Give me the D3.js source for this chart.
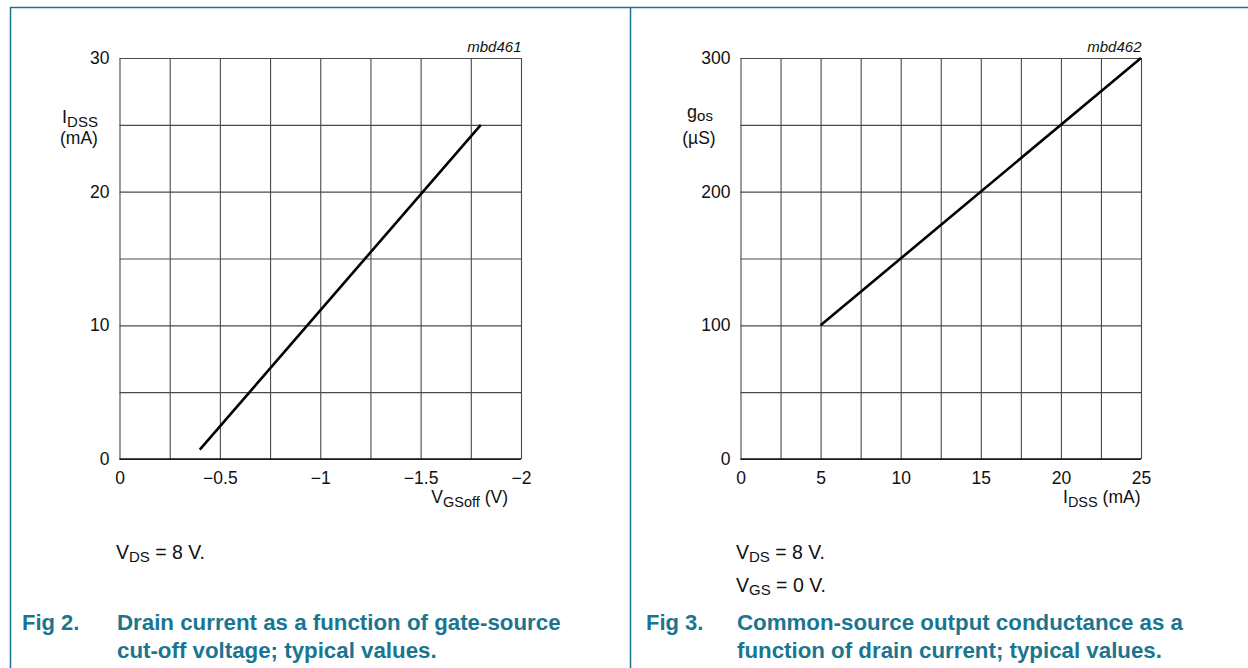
<!DOCTYPE html>
<html>
<head>
<meta charset="utf-8">
<script src="https://cdn.jsdelivr.net/npm/d3@7"></script>
<style>
  html, body { margin: 0; padding: 0; background: #fff; }
  svg { display: block; font-family: "Liberation Sans", Arial, Helvetica, sans-serif; }
</style>
</head>
<body>
<svg id="chart" width="1248" height="668"></svg>
<script>
// Fig 2 — drain current I_DSS (mA) versus gate-source cut-off voltage V_GSoff (V)
const fig2VgsOff = [-0.4, -1.8];
const fig2Idss = [0.7, 25];
const fig2XTicks = [0, -0.5, -1, -1.5, -2];
const fig2YTicks = [0, 10, 20, 30];
const fig2XGrid = [0, -0.25, -0.5, -0.75, -1, -1.25, -1.5, -1.75, -2];
const fig2YGrid = [0, 5, 10, 15, 20, 25, 30];

// Fig 3 — output conductance g_os (µS) versus drain current I_DSS (mA)
const fig3Idss = [5, 25];
const fig3Gos = [100, 300];
const fig3XTicks = [0, 5, 10, 15, 20, 25];
const fig3YTicks = [0, 100, 200, 300];
const fig3XGrid = [0, 2.5, 5, 7.5, 10, 12.5, 15, 17.5, 20, 22.5, 25];
const fig3YGrid = [0, 50, 100, 150, 200, 250, 300];

const TEAL = "#1a7590";
const svg = d3.select("#chart");

// panel frame lines
svg.append("line").attr("x1", 10).attr("x2", 1248).attr("y1", 7.5).attr("y2", 7.5)
  .attr("stroke", TEAL).attr("stroke-width", 1.5);
svg.append("line").attr("x1", 10.5).attr("x2", 10.5).attr("y1", 7).attr("y2", 668)
  .attr("stroke", TEAL).attr("stroke-width", 1.5);
svg.append("line").attr("x1", 630.5).attr("x2", 630.5).attr("y1", 7).attr("y2", 668)
  .attr("stroke", TEAL).attr("stroke-width", 1.5);

const minus = v => v === 0 ? "0" : (v < 0 ? "\u2212" + Math.abs(v) : String(v));

function panel(o) {
  const x = d3.scaleLinear().domain(o.xDomain).range([o.left, o.right]);
  const y = d3.scaleLinear().domain(o.yDomain).range([459, 58]);
  const g = svg.append("g");
  const h = 459 - 58, w = o.right - o.left;

  // vertical grid
  g.append("g").attr("transform", `translate(0,459)`)
    .call(d3.axisBottom(x).tickValues(o.xGrid).tickSize(-h).tickFormat(""))
    .call(s => s.select(".domain").remove())
    .call(s => s.selectAll("line").attr("stroke", "#4a4a4a").attr("stroke-width", 1.1));
  // horizontal grid
  g.append("g").attr("transform", `translate(${o.left},0)`)
    .call(d3.axisLeft(y).tickValues(o.yGrid).tickSize(-w).tickFormat(""))
    .call(s => s.select(".domain").remove())
    .call(s => s.selectAll("line").attr("stroke", "#4a4a4a").attr("stroke-width", 1.1));
  // baseline
  g.append("line").attr("x1", o.left).attr("x2", o.right).attr("y1", 459).attr("y2", 459)
    .attr("stroke", "#111").attr("stroke-width", 1.6);

  // tick labels
  g.append("g").attr("transform", `translate(0,459)`)
    .call(d3.axisBottom(x).tickValues(o.xTicks).tickSize(0).tickPadding(13).tickFormat(minus))
    .call(s => s.select(".domain").remove())
    .call(s => s.selectAll("text").attr("font-size", 17.5).attr("fill", "#111")
      .attr("font-family", null));
  g.append("g").attr("transform", `translate(${o.left},0)`)
    .call(d3.axisLeft(y).tickValues(o.yTicks).tickSize(0).tickPadding(10).tickFormat(d3.format("d")))
    .call(s => s.select(".domain").remove())
    .call(s => s.selectAll("text").attr("font-size", 17.5).attr("fill", "#111")
      .attr("font-family", null));

  // data line
  const pts = o.xs.map((v, i) => [v, o.ys[i]]);
  g.append("path").datum(pts)
    .attr("d", d3.line().x(d => x(d[0])).y(d => y(d[1])))
    .attr("fill", "none").attr("stroke", "#000").attr("stroke-width", 2.6)
    .attr("stroke-linecap", "butt");

  // drawing code
  g.append("text").attr("x", o.right + 0.5).attr("y", 52).attr("text-anchor", "end")
    .attr("font-size", 15).attr("font-style", "italic").attr("fill", "#111").text(o.code);

  // y title
  const yt = g.append("text").attr("x", o.yTitleX).attr("y", o.yTitleY)
    .attr("text-anchor", "middle").attr("font-size", 18).attr("fill", "#111");
  yt.append("tspan").text(o.yMain);
  yt.append("tspan").attr("dy", o.ySubDy).attr("font-size", 15).text(o.ySub);
  g.append("text").attr("x", o.yTitleX - 1).attr("y", 144)
    .attr("text-anchor", "middle").attr("font-size", 17.5).attr("fill", "#111").text(o.yUnit);

  // x title
  const xt = g.append("text").attr("x", o.xTitleX).attr("y", 503)
    .attr("text-anchor", "end").attr("font-size", 17.5).attr("fill", "#111");
  xt.append("tspan").text(o.xMain);
  xt.append("tspan").attr("dy", 4).attr("font-size", 14.5).text(o.xSub);
  xt.append("tspan").attr("dy", -4).text(o.xUnit);

  // condition notes
  o.notes.forEach((n, i) => {
    const t = g.append("text").attr("x", o.noteX).attr("y", 558.5 + i * 33)
      .attr("font-size", 19.5).attr("fill", "#111");
    t.append("tspan").text(n[0]);
    t.append("tspan").attr("dy", 3.5).attr("font-size", 15).text(n[1]);
    t.append("tspan").attr("dy", -3.5).text(n[2]);
  });

  // caption
  g.append("text").attr("x", o.figX).attr("y", 630).attr("font-size", 22)
    .attr("font-weight", "bold").attr("fill", TEAL).text(o.fig);
  o.caption.forEach((c, i) => {
    g.append("text").attr("x", o.noteX + 1).attr("y", 630 + i * 28).attr("font-size", 22.3)
      .attr("font-weight", "bold").attr("fill", TEAL).text(c);
  });
}

panel({
  left: 119.5, right: 521, xDomain: [0, -2], yDomain: [0, 30],
  xGrid: fig2XGrid, yGrid: fig2YGrid, xTicks: fig2XTicks, yTicks: fig2YTicks,
  xs: fig2VgsOff, ys: fig2Idss, code: "mbd461",
  yMain: "I", ySub: "DSS", ySubDy: 4.5, yUnit: "(mA)", yTitleX: 80, yTitleY: 122.5,
  xMain: "V", xSub: "GSoff", xUnit: " (V)", xTitleX: 508,
  notes: [["V", "DS", " = 8 V."]], noteX: 116,
  fig: "Fig 2.", figX: 22,
  caption: ["Drain current as a function of gate-source", "cut-off voltage; typical values."]
});

panel({
  left: 740.5, right: 1141, xDomain: [0, 25], yDomain: [0, 300],
  xGrid: fig3XGrid, yGrid: fig3YGrid, xTicks: fig3XTicks, yTicks: fig3YTicks,
  xs: fig3Idss, ys: fig3Gos, code: "mbd462",
  yMain: "g", ySub: "os", ySubDy: 3, yUnit: "(\u00b5S)", yTitleX: 700, yTitleY: 117.5,
  xMain: "I", xSub: "DSS", xUnit: " (mA)", xTitleX: 1140.5,
  notes: [["V", "DS", " = 8 V."], ["V", "GS", " = 0 V."]], noteX: 736,
  fig: "Fig 3.", figX: 646,
  caption: ["Common-source output conductance as a", "function of drain current; typical values."]
});
</script>
</body>
</html>
